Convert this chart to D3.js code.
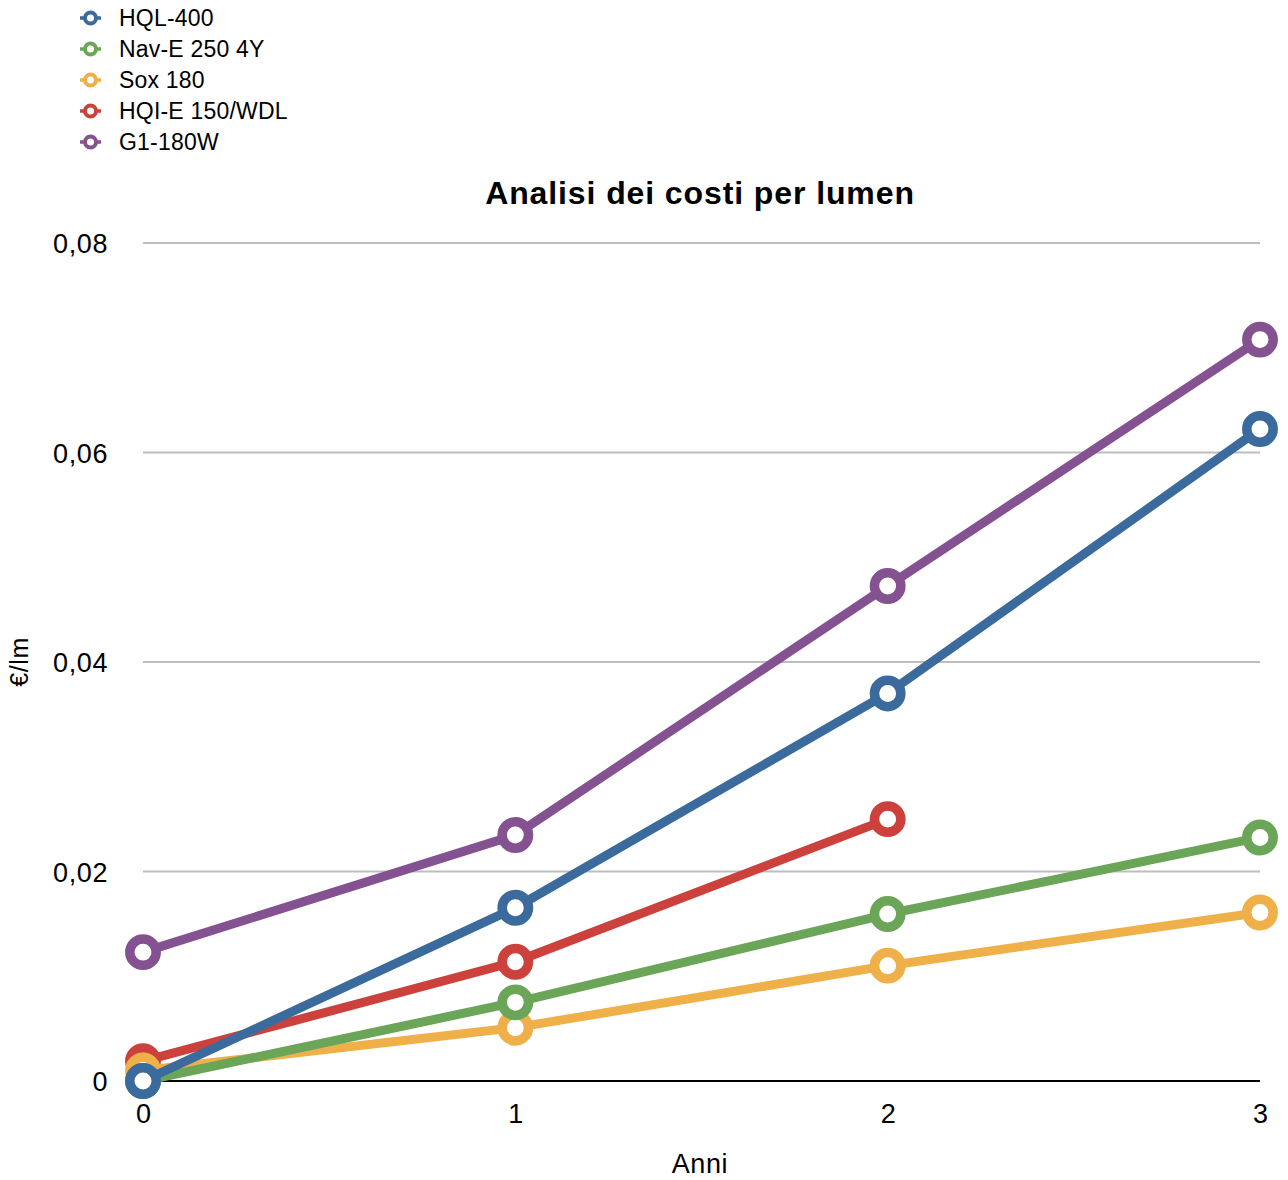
<!DOCTYPE html>
<html>
<head>
<meta charset="utf-8">
<script src="https://cdn.jsdelivr.net/npm/d3@7/dist/d3.min.js"></script>
<style>
  html, body { margin: 0; padding: 0; background: #fff; }
  svg { display: block; font-family: "Liberation Sans", Arial, Helvetica, sans-serif; }
</style>
</head>
<body>
<svg id="chart" width="1288" height="1180"></svg>
<script>
// Years on the x axis
const years = [0, 1, 2, 3];

// Cost per lumen (€/lm) for each lamp
const hql400 = [0, 0.01654, 0.0370, 0.06224];
const navE250 = [0, 0.00751, 0.01594, 0.02325];
const sox180 = [0.0010, 0.00509, 0.01101, 0.01609];
const hqiE150 = [0.0019, 0.01139, 0.0250];
const g1180 = [0.0123, 0.02348, 0.04726, 0.07078];

const seriesNames = ["HQL-400", "Nav-E 250 4Y", "Sox 180", "HQI-E 150/WDL", "G1-180W"];
const seriesValues = [hql400, navE250, sox180, hqiE150, g1180];
const seriesColors = ["#3b6a9d", "#6aa558", "#efb04a", "#cc413c", "#845290"];

const yTicks = [0, 0.02, 0.04, 0.06, 0.08];

const chartTitle = "Analisi dei costi per lumen";
const xTitle = "Anni";
const yTitle = "€/lm";

const svg = d3.select("#chart");

const x = d3.scaleLinear().domain([0, 3]).range([143, 1260]);
const y = d3.scaleLinear().domain([0, 0.08]).range([1081, 243]);

const it = d3.formatLocale({ decimal: ",", thousands: ".", grouping: [3], currency: ["€", ""] });
const fmtY = v => v === 0 ? "0" : it.format(".2f")(v);

// Y axis labels
const yAxis = d3.axisLeft(y).tickValues(yTicks).tickSize(0).tickPadding(35).tickFormat(fmtY);
const gy = svg.append("g").attr("transform", `translate(${x(0)},1)`).call(yAxis);
gy.select(".domain").remove();
gy.selectAll("text")
  .attr("font-size", 27).attr("letter-spacing", 0.6).attr("fill", "#000")
  .attr("font-family", "Liberation Sans, Arial, sans-serif");

// Horizontal gridlines
svg.append("g").selectAll("line")
  .data(yTicks.filter(d => d !== 0))
  .join("line")
  .attr("x1", x(0)).attr("x2", x(3))
  .attr("y1", d => y(d)).attr("y2", d => y(d))
  .attr("stroke", "#bdbdbd").attr("stroke-width", 2);

// Zero baseline
svg.append("line")
  .attr("x1", x(0)).attr("x2", x(3))
  .attr("y1", y(0)).attr("y2", y(0))
  .attr("stroke", "#000").attr("stroke-width", 2);

// X axis labels
const xAxis = d3.axisBottom(x).tickValues(years).tickSize(0).tickPadding(23).tickFormat(d3.format("d"));
const gx = svg.append("g").attr("transform", `translate(0,${y(0)})`).call(xAxis);
gx.select(".domain").remove();
gx.selectAll("text")
  .attr("font-size", 27).attr("fill", "#000")
  .attr("font-family", "Liberation Sans, Arial, sans-serif");

// Series, drawn last-to-first so the first sits on top
const line = d3.line().x((d, i) => x(years[i])).y(d => y(d));
const order = d3.range(seriesNames.length).reverse();
order.forEach(k => {
  const g = svg.append("g");
  g.append("path")
    .datum(seriesValues[k])
    .attr("d", line)
    .attr("fill", "none")
    .attr("stroke", seriesColors[k])
    .attr("stroke-width", 9)
    .attr("stroke-linejoin", "round");
  g.selectAll("circle")
    .data(seriesValues[k])
    .join("circle")
    .attr("cx", (d, i) => x(years[i]))
    .attr("cy", d => y(d))
    .attr("r", 13.2)
    .attr("fill", "#fff")
    .attr("stroke", seriesColors[k])
    .attr("stroke-width", 9.5);
});

// Title
svg.append("text")
  .attr("x", 700).attr("y", 204)
  .attr("text-anchor", "middle")
  .attr("font-size", 32).attr("font-weight", "bold").attr("letter-spacing", 0.9)
  .text(chartTitle);

// Axis titles
svg.append("text")
  .attr("x", 700).attr("y", 1173)
  .attr("text-anchor", "middle")
  .attr("font-size", 27).attr("letter-spacing", 0.6)
  .text(xTitle);

svg.append("text")
  .attr("transform", "translate(28,662) rotate(-90)")
  .attr("text-anchor", "middle")
  .attr("font-size", 25).attr("letter-spacing", 0.6)
  .text(yTitle);

// Legend
const legend = svg.append("g");
seriesNames.forEach((name, i) => {
  const cy = 18 + i * 31;
  legend.append("line")
    .attr("x1", 80).attr("x2", 101).attr("y1", cy).attr("y2", cy)
    .attr("stroke", seriesColors[i]).attr("stroke-width", 3.5);
  legend.append("circle")
    .attr("cx", 90.5).attr("cy", cy).attr("r", 5.5)
    .attr("fill", "#fff").attr("stroke", seriesColors[i]).attr("stroke-width", 4);
  legend.append("text")
    .attr("x", 119).attr("y", cy + 8)
    .attr("font-size", 23).attr("letter-spacing", 0.2)
    .text(name);
});
</script>
</body>
</html>
